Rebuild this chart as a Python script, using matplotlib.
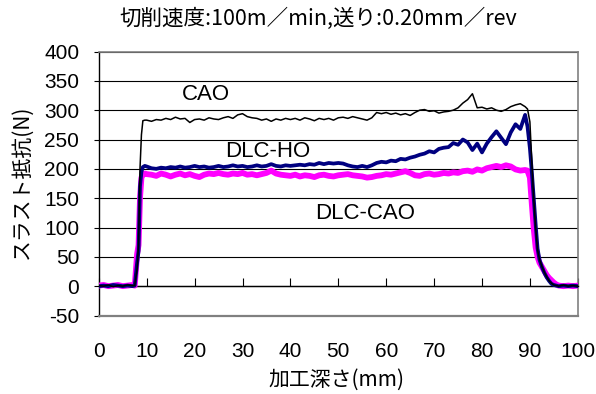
import matplotlib
matplotlib.use("Agg")
import matplotlib.pyplot as plt

# ---------------- data ----------------
x_depth = ([0, 1, 2, 3, 4, 5, 6, 7, 7.5, 8, 8.3, 8.6, 8.9, 9.2, 9.6]
           + list(range(10, 90))
           + [89.5, 90, 90.4, 90.8, 91.2, 91.6, 92, 92.5, 93, 93.5, 94, 94.5,
              95, 95.5, 96, 97, 98, 99, 100])

cao = ([1, 0, 2, -1, 1, 0, 2, 1, 1, 30, 70, 200, 258, 282, 283]
       + [283, 281, 284, 283, 286, 284, 288, 285, 286, 279,
          284, 285, 283, 287, 285, 284, 287, 289, 286, 292,
          294, 289, 287, 286, 283, 285, 281, 285, 283, 286,
          284, 286, 283, 287, 285, 282, 286, 284, 286, 283,
          287, 288, 286, 289, 287, 285, 283, 287, 296, 294,
          296, 293, 295, 292, 294, 291, 296, 300, 301, 298,
          299, 295, 297, 298, 300, 304, 312, 318, 328, 304,
          305, 302, 304, 300, 298, 301, 306, 309, 311, 306]
       + [302, 280, 212, 150, 100, 62, 46, 34, 24, 16, 9, 5, 2, 1, 0, 2, 0, 1, 0])

dlc_ho = ([0, 1, 0, 2, 1, 0, 1, 0, 1, 40, 60, 170, 195, 203, 205]
          + [204, 201, 200, 202, 201, 203, 202, 204, 202, 203,
             205, 203, 204, 202, 203, 205, 203, 204, 206, 204,
             205, 203, 204, 206, 204, 205, 208, 205, 204, 206,
             205, 206, 207, 206, 208, 207, 210, 208, 210, 209,
             210, 209, 206, 204, 203, 205, 203, 206, 210, 212,
             211, 214, 213, 217, 216, 219, 221, 224, 226, 230,
             228, 234, 236, 237, 244, 241, 250, 245, 232, 243,
             228, 243, 254, 264, 253, 242, 262, 276, 268, 292]
          + [272, 235, 195, 150, 105, 64, 45, 33, 23, 15, 9, 4, 2, 1, 0, 1, 0, 1, 0])

dlc_cao = ([1, 2, 0, 1, 2, 0, 1, 2, 1, 55, 70, 150, 185, 190, 192]
           + [191, 190, 188, 192, 190, 187, 190, 192, 189, 191,
              188, 186, 190, 192, 191, 193, 191, 190, 192, 191,
              193, 190, 191, 189, 191, 193, 197, 192, 190, 189,
              188, 190, 187, 189, 188, 186, 189, 190, 188, 187,
              189, 190, 191, 189, 188, 187, 185, 186, 188, 189,
              191, 190, 192, 194, 196, 193, 189, 188, 191, 192,
              190, 191, 193, 192, 194, 193, 196, 197, 195, 199,
              197, 201, 203, 205, 203, 206, 204, 199, 197, 198]
           + [197, 185, 140, 98, 66, 50, 40, 33, 26, 19, 14, 10, 6, 3, 1, 0, 1, 0, 1])

x_ticks = [0, 10, 20, 30, 40, 50, 60, 70, 80, 90, 100]
y_ticks = [-50, 0, 50, 100, 150, 200, 250, 300, 350, 400]
y_tick_labels = ["-50", "0", "50", "100", "150", "200", "250", "300", "350", "400"]

title_text = "切削速度:100m／min,送り:0.20mm／rev"
x_label = "加工深さ(mm)"
y_label = "スラスト抵抗(N)"
series_labels = ["CAO", "DLC-HO", "DLC-CAO"]
label_pos = [(22.4, 326), (35.3, 230), (55.6, 124)]

# ---------------- figure ----------------
W, H = 596, 394
fig = plt.figure(figsize=(W / 100, H / 100), dpi=100)
ax = fig.add_axes([98.8 / W, 1 - 315.5 / H, (577.8 - 98.8) / W, (315.5 - 51.5) / H])

cjk = ["Noto Sans CJK JP", "DejaVu Sans"]
num_font = "Liberation Sans"

# spines first (repositioning resets ticks)
ax.spines["left"].set_color("black")
ax.spines["left"].set_linewidth(1.0)
ax.spines["bottom"].set_position(("data", 0))
ax.spines["bottom"].set_color("black")
ax.spines["bottom"].set_linewidth(1.0)
ax.spines["top"].set_color("#808080")
ax.spines["right"].set_color("#808080")
ax.spines["top"].set_linewidth(1.2)
ax.spines["right"].set_linewidth(1.2)

ax.plot(x_depth, dlc_cao, color="#FF00FF", lw=4.2, zorder=3, solid_joinstyle="round")
ax.plot(x_depth, dlc_ho, color="#000080", lw=2.7, zorder=4, solid_joinstyle="round")
ax.plot(x_depth, cao, color="black", lw=1.1, zorder=5)

ax.set_xlim(0, 100)
ax.set_ylim(-50, 400)

ax.set_yticks(y_ticks)
ax.set_yticklabels(y_tick_labels, fontsize=15, fontfamily=num_font)
ax.yaxis.grid(True, color="black", lw=0.8)
ax.set_axisbelow(True)

ax.set_xticks(x_ticks)
ax.set_xticklabels([str(v) for v in x_ticks], fontsize=15, fontfamily=num_font)

ax.axhline(-50, color="#808080", lw=1.6, clip_on=False, zorder=6)

ax.tick_params(axis="x", direction="in", length=5.5, width=0.8, pad=40.5, colors="black")
ax.tick_params(axis="y", direction="out", length=3.6, width=0.8, pad=10.5, colors="black")

# series labels
for (lx, ly), txt in zip(label_pos, series_labels):
    ax.text(lx, ly, txt, fontsize=16, fontfamily=num_font, ha="center", va="center", zorder=7)

fig.text(318 / W, 1 - 19 / H, title_text, fontsize=15.5, fontfamily=cjk, ha="center", va="center")
fig.text(336.5 / W, 1 - 380 / H, x_label, fontsize=15, fontfamily=cjk, ha="center", va="center")
fig.text(22 / W, 1 - 182 / H, y_label, fontsize=15, fontfamily=cjk, ha="center", va="center",
         rotation=90)

fig.savefig("out.png", dpi=100)
